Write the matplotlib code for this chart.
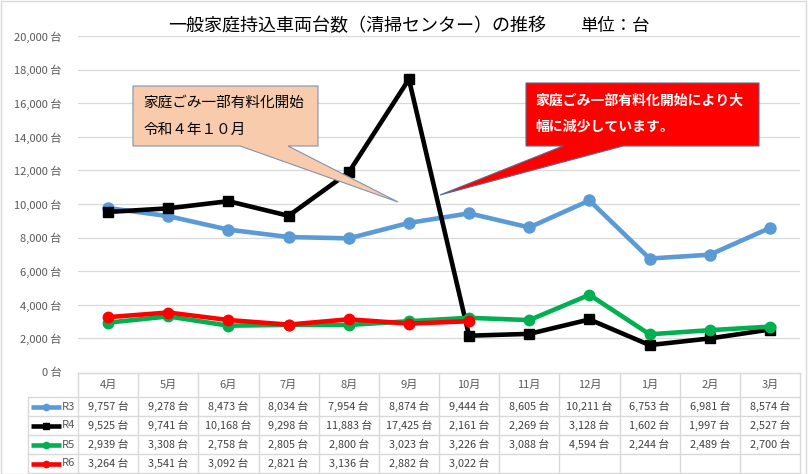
import matplotlib
matplotlib.use("Agg")
import matplotlib.pyplot as plt
from matplotlib import transforms
from matplotlib.patches import Polygon, Rectangle
from matplotlib.lines import Line2D

plt.rcParams['font.family'] = ['Noto Sans CJK JP', 'DejaVu Sans']

months = ['4月', '5月', '6月', '7月', '8月', '9月', '10月', '11月', '12月', '1月', '2月', '3月']
r3 = [9757, 9278, 8473, 8034, 7954, 8874, 9444, 8605, 10211, 6753, 6981, 8574]
r4 = [9525, 9741, 10168, 9298, 11883, 17425, 2161, 2269, 3128, 1602, 1997, 2527]
r5 = [2939, 3308, 2758, 2805, 2800, 3023, 3226, 3088, 4594, 2244, 2489, 2700]
r6 = [3264, 3541, 3092, 2821, 3136, 2882, 3022]
series_names = ['R3', 'R4', 'R5', 'R6']
yticks = list(range(0, 20001, 2000))

title = '一般家庭持込車両台数（清掃センター）の推移'
unit = '単位：台'
callout1 = '家庭ごみ一部有料化開始\n令和４年１０月'
callout2 = '家庭ごみ一部有料化開始により大\n幅に減少しています。'

W, H = 808, 474
fig = plt.figure(figsize=(W / 100, H / 100), dpi=100)

def fx(x):
    return x / W

def fy(y):
    return 1 - y / H

ax = fig.add_axes([fx(78), fy(372), fx(800) - fx(78), fy(36) - fy(372)])
ax.set_xlim(-0.5, 11.5)
ax.set_ylim(0, 20000)
ax.set_yticks(yticks)
ax.set_yticklabels([f'{v:,} 台' for v in yticks], fontsize=8, color='#595959')
ax.tick_params(axis='y', length=0, pad=12)
ax.set_xticks([])
ax.grid(axis='y', color='#D9D9D9', lw=0.9)
ax.set_axisbelow(True)
for s in ax.spines.values():
    s.set_visible(False)

styles = [
    dict(color='#5B9BD5', marker='o', ms=8),
    dict(color='#000000', marker='s', ms=7),
    dict(color='#00B050', marker='o', ms=7.5),
    dict(color='#FF0000', marker='o', ms=7.5),
]
data = [r3, r4, r5, r6]
for vals, st in zip(data, styles):
    ax.plot(range(len(vals)), vals, lw=3.3, solid_joinstyle='miter', **st)

# figure border
fig.add_artist(Rectangle((fx(0.5), fy(473.5)), fx(806) - fx(0.5), fy(0.5) - fy(473.5),
                         transform=fig.transFigure, fill=False, ec='#D9D9D9', lw=1))

# title
fig.text(fx(168), fy(26), title, fontsize=13, va='center', ha='left', color='#000000')
fig.text(fx(580), fy(26), unit, fontsize=12.5, va='center', ha='left', color='#000000')

# callout 1 (peach)
x0, y0, x1, y1 = 133, 86, 318, 146
poly1 = [(x0, y0), (x1, y0), (x1, y1), (288, y1), (398, 202), (240, y1), (x0, y1)]
fig.add_artist(Polygon([(fx(a), fy(b)) for a, b in poly1], closed=True, transform=fig.transFigure,
                       fc='#F8CBAD', ec='#7F93B0', lw=0.8, zorder=5))
fig.text(fx(143), fy(103), callout1.split('\n')[0], fontsize=10.5, va='center', ha='left', zorder=6)
fig.text(fx(143), fy(130), callout1.split('\n')[1], fontsize=10.5, va='center', ha='left', zorder=6)

# callout 2 (red)
x0, y0, x1, y1 = 526, 83, 759, 146
poly2 = [(x0, y0), (x1, y0), (x1, y1), (623, y1), (440, 195), (563, y1), (x0, y1)]
fig.add_artist(Polygon([(fx(a), fy(b)) for a, b in poly2], closed=True, transform=fig.transFigure,
                       fc='#FF0000', ec='#5A6A8A', lw=0.8, zorder=5))
fig.text(fx(535), fy(101), callout2.split('\n')[0], fontsize=10, fontweight='bold', color='white',
         va='center', ha='left', zorder=6)
fig.text(fx(535), fy(127), callout2.split('\n')[1], fontsize=10, fontweight='bold', color='white',
         va='center', ha='left', zorder=6)

# data table
bt = transforms.blended_transform_factory(ax.transData, fig.transFigure)
gc = '#D9D9D9'
row_lines = [373, 397, 416, 435, 454, 473]
xl, xr = -0.5, 11.5
fig.add_artist(Line2D([xl, xr], [fy(373), fy(373)], transform=bt, color=gc, lw=1))
for yy in row_lines[1:]:
    fig.add_artist(Line2D([fx(28), fx(78)], [fy(yy), fy(yy)], transform=fig.transFigure, color=gc, lw=1))
    fig.add_artist(Line2D([xl, xr], [fy(yy), fy(yy)], transform=bt, color=gc, lw=1))
for i in range(13):
    fig.add_artist(Line2D([i - 0.5, i - 0.5], [fy(373), fy(473)], transform=bt, color=gc, lw=1))
fig.add_artist(Line2D([fx(28), fx(28)], [fy(397), fy(473)], transform=fig.transFigure, color=gc, lw=1))

for i, m in enumerate(months):
    fig.text(i, fy(385), m, transform=bt, fontsize=8, color='#595959', ha='center', va='center')
for r, (name, vals, st) in enumerate(zip(series_names, data, styles)):
    yc = (row_lines[r + 1] + row_lines[r + 2]) / 2
    fig.add_artist(Line2D([fx(31), fx(61)], [fy(yc), fy(yc)], transform=fig.transFigure,
                          color=st['color'], lw=3.3, solid_capstyle='butt'))
    fig.add_artist(Line2D([fx(46)], [fy(yc)], transform=fig.transFigure, color=st['color'],
                          marker=st['marker'], ms=4.5, lw=0))
    fig.text(fx(62), fy(yc), name, fontsize=8, color='#595959', ha='left', va='center')
    for i, v in enumerate(vals):
        fig.text(i, fy(yc), f'{v:,} 台', transform=bt, fontsize=7.8, color='#404040',
                 ha='center', va='center')

fig.savefig('out.png', dpi=100)
